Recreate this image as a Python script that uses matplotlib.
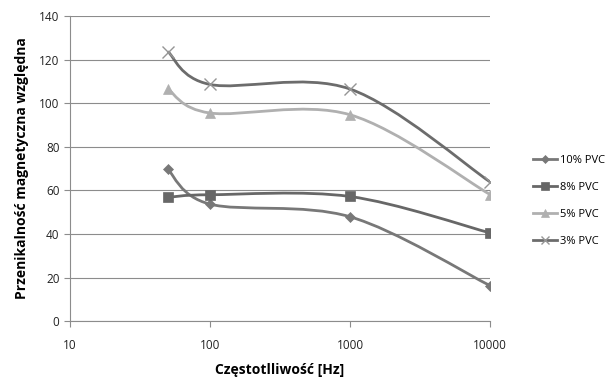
import numpy as np
import matplotlib.pyplot as plt
from matplotlib.path import Path
from matplotlib.patches import PathPatch
from matplotlib.lines import Line2D

freq = [50, 100, 1000, 10000]
series = {
    "10% PVC": [69.6, 53.7, 47.9, 16.3],
    "8% PVC": [56.8, 58.0, 57.2, 40.5],
    "5% PVC": [106.5, 95.5, 94.7, 58.1],
    "3% PVC": [123.7, 108.6, 106.5, 63.9],
}
styles = {
    "10% PVC": dict(color="#787878", marker="D", ms=5),
    "8% PVC": dict(color="#676767", marker="s", ms=7),
    "5% PVC": dict(color="#b0b0b0", marker="^", ms=7),
    "3% PVC": dict(color="#6c6c6c", marker="x", ms=7),
}

plt.rcParams["font.family"] = ["Open Sans", "DejaVu Sans"]


def smooth_path(xs, ys):
    # Excel-like smoothed line: Catmull-Rom as cubic Bezier in log-x space
    u = np.log10(xs)
    v = np.asarray(ys, dtype=float)
    pts = np.column_stack([u, v])
    n = len(pts)
    verts = [pts[0]]
    codes = [Path.MOVETO]
    for i in range(n - 1):
        p0 = pts[max(i - 1, 0)]
        p1 = pts[i]
        p2 = pts[i + 1]
        p3 = pts[min(i + 2, n - 1)]
        c1 = p1 + (p2 - p0) / 6
        c2 = p2 - (p3 - p1) / 6
        verts += [c1, c2, p2]
        codes += [Path.CURVE4] * 3
    verts = np.array(verts)
    verts[:, 0] = 10 ** verts[:, 0]
    return Path(verts, codes)


fig = plt.figure(figsize=(6.08, 3.81), dpi=100)
ax = fig.add_axes([0.115, 0.157, 0.691, 0.801])
ax.set_xscale("log")
ax.set_xlim(10, 10000)
ax.set_ylim(0, 140)

handles = []
for name, vals in series.items():
    st = styles[name]
    ax.add_patch(PathPatch(smooth_path(freq, vals), fill=False,
                           edgecolor=st["color"], lw=2.0, zorder=3))
    if st["marker"] == "x":
        mc, mew = "#959595", 1.0
    else:
        mc, mew = st["color"], 0.5
    ax.plot(freq, vals, linestyle="none", marker=st["marker"],
            ms=st["ms"] + (1 if st["marker"] == "x" else 0),
            color=mc, mec=mc, mew=mew, zorder=4)
    handles.append(Line2D([], [], color=st["color"], lw=2.0, marker=st["marker"],
                          ms=st["ms"] - 1, mfc=mc, mec=mc, mew=mew, label=name))

ax.set_yticks(range(0, 141, 20))
ax.set_xticks([10, 100, 1000, 10000])
ax.set_xticklabels(["10", "100", "1000", "10000"])
ax.minorticks_off()
ax.grid(axis="y", color="#8c8c8c", lw=0.8)
ax.set_axisbelow(True)
for s in ["top", "right"]:
    ax.spines[s].set_visible(False)
for s in ["left", "bottom"]:
    ax.spines[s].set_color("#8c8c8c")
ax.tick_params(colors="#8c8c8c", labelcolor="#222222", labelsize=8.5, length=4)
ax.tick_params(axis="x", pad=9)

ax.set_xlabel("Częstotlliwość [Hz]", fontsize=10, fontweight="bold", labelpad=8)
ax.set_ylabel("Przenikalność magnetyczna względna", fontsize=10,
              fontweight="bold", labelpad=7)

fig.legend(handles=handles, loc="upper left", bbox_to_anchor=(0.86, 0.62),
           frameon=False, fontsize=8, handlelength=2.2, handletextpad=0.2,
           labelspacing=1.45)

fig.savefig("out.png", dpi=100)
